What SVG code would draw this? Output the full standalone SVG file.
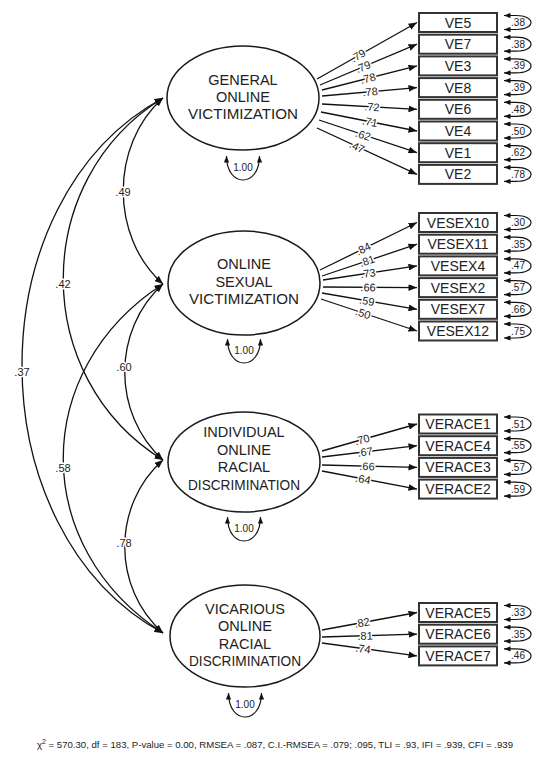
<svg xmlns="http://www.w3.org/2000/svg" width="552" height="760" viewBox="0 0 552 760">
<style>
.lat{fill:#fff;stroke:#1a1a1a;stroke-width:1.5}
.lt{font-family:"Liberation Sans",Arial,sans-serif;font-size:14.5px;fill:#222;text-anchor:middle}
.box{fill:#fff;stroke:#333;stroke-width:2}
.bt{font-family:"Liberation Sans",Arial,sans-serif;font-size:14px;fill:#222;text-anchor:middle}
.c{fill:none;stroke:#111;stroke-width:1.3;marker-start:url(#ah);marker-end:url(#ah)}
.p{fill:none;stroke:#111;stroke-width:1.3;marker-end:url(#ah)}
.loop{fill:none;stroke:#111;stroke-width:1.2;marker-start:url(#ahs);marker-end:url(#ahs)}
.lab{font-family:"Liberation Sans",Arial,sans-serif;font-size:11px;fill:#222;text-anchor:middle;stroke:#fff;stroke-width:3px;paint-order:stroke;stroke-linejoin:round}
.sl{font-family:"Liberation Sans",Arial,sans-serif;font-size:10px;fill:#222;text-anchor:middle}
.fit{font-family:"Liberation Sans",Arial,sans-serif;font-size:9px;fill:#222}
</style>
<defs>
<marker id="ah" viewBox="0 0 10 8" refX="10" refY="4" markerWidth="8.5" markerHeight="6.8" markerUnits="userSpaceOnUse" orient="auto-start-reverse"><path d="M0,0 L10,4 L0,8 z" fill="#111"/></marker>
<marker id="ahs" viewBox="0 0 10 8" refX="10" refY="4" markerWidth="6.5" markerHeight="5.2" markerUnits="userSpaceOnUse" orient="auto-start-reverse"><path d="M0,0 L10,4 L0,8 z" fill="#111"/></marker>
</defs>
<rect width="552" height="760" fill="#fff"/>

<g id="connectors">
<!-- covariances -->
<path class="c" d="M163,98 C110,145 110,237 163,284"/>
<path class="c" d="M163,98 C30,180 30,378 163,460"/>
<path class="c" d="M163,98 C-25,200 -25,531 163,633"/>
<path class="c" d="M163,284 C112,330 112,414 163,460"/>
<path class="c" d="M163,284 C30,370 30,547 163,633"/>
<path class="c" d="M163,460 C112,505 112,588 163,633"/>
<text class="lab" x="123" y="196">.49</text>
<text class="lab" x="63" y="288">.42</text>
<text class="lab" x="22" y="376">.37</text>
<text class="lab" x="124" y="371">.60</text>
<text class="lab" x="63" y="472">.58</text>
<text class="lab" x="124" y="547">.78</text>

<!-- loadings F1 -->
<path class="p" d="M317,79 L417,22.5"/>
<path class="p" d="M320,85 L417,44.2"/>
<path class="p" d="M322,90 L417,65.9"/>
<path class="p" d="M322,96 L417,87.6"/>
<path class="p" d="M322,104 L417,109.3"/>
<path class="p" d="M321,112 L417,131"/>
<path class="p" d="M319,120 L417,152.7"/>
<path class="p" d="M317,128 L417,174.4"/>
<text class="lab" transform="translate(358,55.6) rotate(-29.7)" y="4">.79</text>
<text class="lab" transform="translate(363,66.7) rotate(-23)" y="4">.79</text>
<text class="lab" transform="translate(368,78.2) rotate(-14.4)" y="4">.78</text>
<text class="lab" transform="translate(370,91.7) rotate(-5.1)" y="4">.78</text>
<text class="lab" transform="translate(372,106.8) rotate(3.2)" y="4">.72</text>
<text class="lab" transform="translate(370,121.8) rotate(11.3)" y="4">.71</text>
<text class="lab" transform="translate(363,134.8) rotate(18.6)" y="4">.62</text>
<text class="lab" transform="translate(357,146.7) rotate(25.1)" y="4">.47</text>

<!-- loadings F2 -->
<path class="p" d="M320,270 L417,222.5"/>
<path class="p" d="M322,276 L417,244.2"/>
<path class="p" d="M323,280 L417,265.9"/>
<path class="p" d="M323,287 L417,287.6"/>
<path class="p" d="M322,293 L417,309.3"/>
<path class="p" d="M321,299 L417,331"/>
<text class="lab" transform="translate(363,248.7) rotate(-26.3)" y="4">.84</text>
<text class="lab" transform="translate(367,260.8) rotate(-18.7)" y="4">.81</text>
<text class="lab" transform="translate(368,273.2) rotate(-8.6)" y="4">.73</text>
<text class="lab" transform="translate(368,287.3) rotate(0.4)" y="4">.66</text>
<text class="lab" transform="translate(367,300.8) rotate(9.8)" y="4">.59</text>
<text class="lab" transform="translate(363,313.1) rotate(18.6)" y="4">.50</text>

<!-- loadings F3 -->
<path class="p" d="M322,451 L417,424"/>
<path class="p" d="M322,457 L417,445.7"/>
<path class="p" d="M322,465 L417,467.4"/>
<path class="p" d="M322,471 L417,489.1"/>
<text class="lab" transform="translate(362,439.5) rotate(-16)" y="4">.70</text>
<text class="lab" transform="translate(365,451.8) rotate(-6.9)" y="4">.67</text>
<text class="lab" transform="translate(367,466.1) rotate(1.5)" y="4">.66</text>
<text class="lab" transform="translate(363,478.9) rotate(10.9)" y="4">.64</text>

<!-- loadings F4 -->
<path class="p" d="M322,630 L417,612.5"/>
<path class="p" d="M322,637 L417,634.2"/>
<path class="p" d="M322,643 L417,655.9"/>
<text class="lab" transform="translate(362,622.5) rotate(-10.5)" y="4">.82</text>
<text class="lab" transform="translate(365,635.7) rotate(-1.7)" y="4">.81</text>
<text class="lab" transform="translate(363,648.6) rotate(7.8)" y="4">.74</text>

<!-- latent variances -->
<path class="loop" d="M226.5,156 C226.5,188 259.5,188 259.5,156"/>
<text class="sl" x="243" y="171">1.00</text>
<path class="loop" d="M227.5,339 C227.5,371 260.5,371 260.5,339"/>
<text class="sl" x="244" y="354">1.00</text>
<path class="loop" d="M227.5,517 C227.5,549 260.5,549 260.5,517"/>
<text class="sl" x="244" y="532">1.00</text>
<path class="loop" d="M228.5,693 C228.5,725 261.5,725 261.5,693"/>
<text class="sl" x="245" y="708">1.00</text>

<!-- error variances -->
<path class="loop" d="M504,15.5 H516 C536,15.5 536,29.5 516,29.5 H504"/><text class="sl" x="518" y="26">.38</text>
<path class="loop" d="M504,37.2 H516 C536,37.2 536,51.2 516,51.2 H504"/><text class="sl" x="518" y="47.7">.38</text>
<path class="loop" d="M504,58.9 H516 C536,58.9 536,72.9 516,72.9 H504"/><text class="sl" x="518" y="69.4">.39</text>
<path class="loop" d="M504,80.6 H516 C536,80.6 536,94.6 516,94.6 H504"/><text class="sl" x="518" y="91.1">.39</text>
<path class="loop" d="M504,102.3 H516 C536,102.3 536,116.3 516,116.3 H504"/><text class="sl" x="518" y="112.8">.48</text>
<path class="loop" d="M504,124 H516 C536,124 536,138 516,138 H504"/><text class="sl" x="518" y="134.5">.50</text>
<path class="loop" d="M504,145.7 H516 C536,145.7 536,159.7 516,159.7 H504"/><text class="sl" x="518" y="156.2">.62</text>
<path class="loop" d="M504,167.4 H516 C536,167.4 536,181.4 516,181.4 H504"/><text class="sl" x="518" y="177.9">.78</text>

<path class="loop" d="M504,215.5 H516 C536,215.5 536,229.5 516,229.5 H504"/><text class="sl" x="518" y="226">.30</text>
<path class="loop" d="M504,237.2 H516 C536,237.2 536,251.2 516,251.2 H504"/><text class="sl" x="518" y="247.7">.35</text>
<path class="loop" d="M504,258.9 H516 C536,258.9 536,272.9 516,272.9 H504"/><text class="sl" x="518" y="269.4">.47</text>
<path class="loop" d="M504,280.6 H516 C536,280.6 536,294.6 516,294.6 H504"/><text class="sl" x="518" y="291.1">.57</text>
<path class="loop" d="M504,302.3 H516 C536,302.3 536,316.3 516,316.3 H504"/><text class="sl" x="518" y="312.8">.66</text>
<path class="loop" d="M504,324 H516 C536,324 536,338 516,338 H504"/><text class="sl" x="518" y="334.5">.75</text>

<path class="loop" d="M504,417 H516 C536,417 536,431 516,431 H504"/><text class="sl" x="518" y="427.5">.51</text>
<path class="loop" d="M504,438.7 H516 C536,438.7 536,452.7 516,452.7 H504"/><text class="sl" x="518" y="449.2">.55</text>
<path class="loop" d="M504,460.4 H516 C536,460.4 536,474.4 516,474.4 H504"/><text class="sl" x="518" y="470.9">.57</text>
<path class="loop" d="M504,482.1 H516 C536,482.1 536,496.1 516,496.1 H504"/><text class="sl" x="518" y="492.6">.59</text>

<path class="loop" d="M504,605.5 H516 C536,605.5 536,619.5 516,619.5 H504"/><text class="sl" x="518" y="616">.33</text>
<path class="loop" d="M504,627.2 H516 C536,627.2 536,641.2 516,641.2 H504"/><text class="sl" x="518" y="637.7">.35</text>
<path class="loop" d="M504,648.9 H516 C536,648.9 536,662.9 516,662.9 H504"/><text class="sl" x="518" y="659.4">.46</text>
</g>

<!-- latent factors -->
<g id="F1"><ellipse class="lat" cx="243" cy="98" rx="76" ry="52"/>
<text class="lt" x="243" y="85">GENERAL</text><text class="lt" x="243" y="102">ONLINE</text><text class="lt" x="243" y="119" textLength="110" lengthAdjust="spacingAndGlyphs">VICTIMIZATION</text></g>
<g id="F2"><ellipse class="lat" cx="244" cy="283" rx="76" ry="52"/>
<text class="lt" x="244" y="269">ONLINE</text><text class="lt" x="244" y="286.5">SEXUAL</text><text class="lt" x="244" y="304" textLength="110" lengthAdjust="spacingAndGlyphs">VICTIMIZATION</text></g>
<g id="F3"><ellipse class="lat" cx="244" cy="462" rx="76" ry="50"/>
<text class="lt" x="244" y="437">INDIVIDUAL</text><text class="lt" x="244" y="454.5">ONLINE</text><text class="lt" x="244" y="472">RACIAL</text><text class="lt" x="244" y="489.5" textLength="112" lengthAdjust="spacingAndGlyphs">DISCRIMINATION</text></g>
<g id="F4"><ellipse class="lat" cx="245" cy="636" rx="75" ry="51"/>
<text class="lt" x="245" y="613.5">VICARIOUS</text><text class="lt" x="245" y="631">ONLINE</text><text class="lt" x="245" y="648.5">RACIAL</text><text class="lt" x="245" y="666" textLength="112" lengthAdjust="spacingAndGlyphs">DISCRIMINATION</text></g>

<!-- indicators -->
<g id="VE5"><rect class="box" x="419" y="13" width="78" height="19"/><text class="bt" x="458" y="27.5">VE5</text></g>
<g id="VE7"><rect class="box" x="419" y="34.7" width="78" height="19"/><text class="bt" x="458" y="49.2">VE7</text></g>
<g id="VE3"><rect class="box" x="419" y="56.4" width="78" height="19"/><text class="bt" x="458" y="70.9">VE3</text></g>
<g id="VE8"><rect class="box" x="419" y="78.1" width="78" height="19"/><text class="bt" x="458" y="92.6">VE8</text></g>
<g id="VE6"><rect class="box" x="419" y="99.8" width="78" height="19"/><text class="bt" x="458" y="114.3">VE6</text></g>
<g id="VE4"><rect class="box" x="419" y="121.5" width="78" height="19"/><text class="bt" x="458" y="136">VE4</text></g>
<g id="VE1"><rect class="box" x="419" y="143.2" width="78" height="19"/><text class="bt" x="458" y="157.7">VE1</text></g>
<g id="VE2"><rect class="box" x="419" y="164.9" width="78" height="19"/><text class="bt" x="458" y="179.4">VE2</text></g>

<g id="VESEX10"><rect class="box" x="419" y="213" width="78" height="19"/><text class="bt" x="458" y="227.5">VESEX10</text></g>
<g id="VESEX11"><rect class="box" x="419" y="234.7" width="78" height="19"/><text class="bt" x="458" y="249.2">VESEX11</text></g>
<g id="VESEX4"><rect class="box" x="419" y="256.4" width="78" height="19"/><text class="bt" x="458" y="270.9">VESEX4</text></g>
<g id="VESEX2"><rect class="box" x="419" y="278.1" width="78" height="19"/><text class="bt" x="458" y="292.6">VESEX2</text></g>
<g id="VESEX7"><rect class="box" x="419" y="299.8" width="78" height="19"/><text class="bt" x="458" y="314.3">VESEX7</text></g>
<g id="VESEX12"><rect class="box" x="419" y="321.5" width="78" height="19"/><text class="bt" x="458" y="336">VESEX12</text></g>

<g id="VERACE1"><rect class="box" x="419" y="414.5" width="78" height="19"/><text class="bt" x="458" y="429">VERACE1</text></g>
<g id="VERACE4"><rect class="box" x="419" y="436.2" width="78" height="19"/><text class="bt" x="458" y="450.7">VERACE4</text></g>
<g id="VERACE3"><rect class="box" x="419" y="457.9" width="78" height="19"/><text class="bt" x="458" y="472.4">VERACE3</text></g>
<g id="VERACE2"><rect class="box" x="419" y="479.6" width="78" height="19"/><text class="bt" x="458" y="494.1">VERACE2</text></g>

<g id="VERACE5"><rect class="box" x="419" y="603" width="78" height="19"/><text class="bt" x="458" y="617.5">VERACE5</text></g>
<g id="VERACE6"><rect class="box" x="419" y="624.7" width="78" height="19"/><text class="bt" x="458" y="639.2">VERACE6</text></g>
<g id="VERACE7"><rect class="box" x="419" y="646.4" width="78" height="19"/><text class="bt" x="458" y="660.9">VERACE7</text></g>

<text class="fit" x="37" y="748" textLength="476" lengthAdjust="spacingAndGlyphs">χ<tspan dy="-4" font-size="6.5">2</tspan><tspan dy="4"> = 570.30,  df = 183, P-value = 0.00, RMSEA = .087, C.I.-RMSEA = .079; .095, TLI = .93, IFI = .939, CFI = .939</tspan></text>
</svg>
